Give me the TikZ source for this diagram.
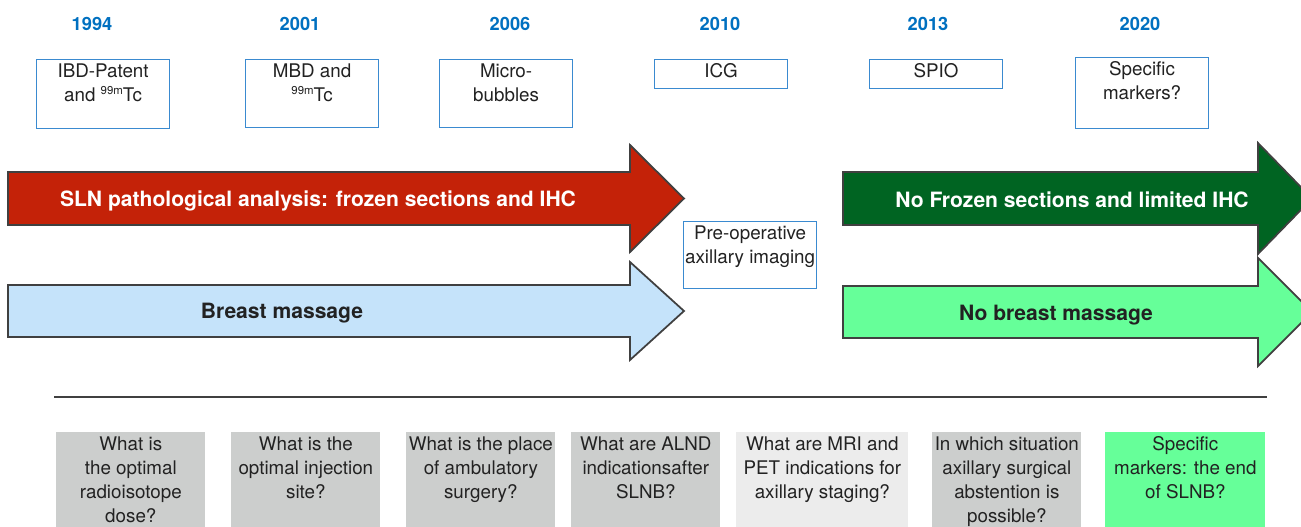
\documentclass[tikz,border=0pt]{standalone}
\usepackage{fontspec}
\setmainfont{TeX Gyre Heros}
\usetikzlibrary{positioning}
\definecolor{yearblue}{RGB}{0,112,192}
\definecolor{boxblue}{RGB}{58,138,208}
\definecolor{sectred}{RGB}{196,34,8}
\definecolor{massblue}{RGB}{197,227,250}
\definecolor{nofrozen}{RGB}{0,100,34}
\definecolor{nomass}{RGB}{102,255,153}
\definecolor{qgray}{RGB}{204,206,205}
\definecolor{qlight}{RGB}{236,236,236}
\definecolor{edge}{RGB}{64,64,64}
\definecolor{ink}{RGB}{34,34,34}
\newcommand{\isotope}{\raisebox{0.75ex}{\fontsize{6.5}{7}\selectfont 99m}}

\tikzset{
  year/.style = {font=\fontsize{10.4}{12}\selectfont\bfseries, text=yearblue},
  boxtext/.style = {font=\fontsize{10.7}{13.7}\selectfont, text=ink, align=center, inner sep=2.5pt},
  tracer/.style = {draw=boxblue, fill=white, line width=0.7pt, anchor=north west,
    minimum width=2.66cm, inner sep=0pt},
  question/.style = {anchor=north west, minimum height=2cm, inner sep=0pt},
  bigarrow/.style = {draw=edge, line width=1pt, line join=miter},
  arrowtext/.style = {font=\fontsize{12}{14}\selectfont\bfseries}
}

\begin{document}
\begin{tikzpicture}[x=0.02cm, y=-0.02cm]
\useasboundingbox (0,0) rectangle (1301,527);

% years
\node[year] (y1994) at (92,24) {1994};
\node[year] (y2001) at (300,24) {2001};
\node[year] (y2006) at (510,24) {2006};
\node[year] (y2010) at (720,24) {2010};
\node[year] (y2013) at (928,24) {2013};
\node[year] (y2020) at (1140,24) {2020};

% tracers
\node[tracer, minimum height=1.38cm, label={[boxtext, anchor=north]north:{IBD-Patent\\and \isotope Tc}}] (ibd) at (36,59) {};
\node[tracer, minimum height=1.36cm, label={[boxtext, anchor=north]north:{MBD and\\\isotope Tc}}] (mbd) at (245,59) {};
\node[tracer, minimum height=1.36cm, label={[boxtext, anchor=north]north:{Micro-\\bubbles}}] (micro) at (439,59) {};
\node[tracer, minimum height=0.58cm, label={[boxtext, anchor=north]north:{ICG}}] (icg) at (654,59) {};
\node[tracer, minimum height=0.58cm, label={[boxtext, anchor=north]north:{SPIO}}] (spio) at (869,59) {};
\node[tracer, minimum height=1.42cm, label={[boxtext, anchor=north]north:{Specific\\markers?}}] (markers) at (1075,57) {};

% big arrows
\filldraw[bigarrow, fill=sectred] (8,172) -- (630,172) -- (630,145) -- (684,198.5)
  -- (630,252) -- (630,225) -- (8,225) -- cycle;
\node[arrowtext, text=white] (frozen) at (318,200.5) {SLN pathological analysis: frozen sections and IHC};

\filldraw[bigarrow, fill=massblue] (8,285) -- (630,285) -- (630,262) -- (684,311)
  -- (630,360) -- (630,337) -- (8,337) -- cycle;
\node[arrowtext, text=ink] (massage) at (282,313) {Breast massage};

\filldraw[bigarrow, fill=nofrozen] (843,172) -- (1258,172) -- (1258,143) -- (1312,198.5)
  -- (1258,254) -- (1258,225) -- (843,225) -- cycle;
\node[arrowtext, text=white] (nofrozen) at (1072,200) {No Frozen sections and limited IHC};

\filldraw[bigarrow, fill=nomass] (843,286) -- (1258,286) -- (1258,258) -- (1312,312)
  -- (1258,366) -- (1258,338) -- (843,338) -- cycle;
\node[arrowtext, text=ink] (nomassage) at (1056,315) {No breast massage};

\node[tracer, minimum height=1.34cm, label={[boxtext, anchor=north]north:{Pre-operative\\axillary imaging}}] (imaging) at (683,221) {};

% separator
\coordinate (sepl) at (54,397);
\coordinate (sepr) at (1267,397);
\draw[edge, line width=0.8pt] (sepl) -- (sepr);

% questions
\node[question, fill=qgray, minimum width=2.98cm, label={[boxtext, anchor=north]north:{What is\\the optimal\\radioisotope\\dose?}}] (dose) at (56,432) {};
\node[question, fill=qgray, minimum width=2.98cm, label={[boxtext, anchor=north]north:{What is the\\optimal injection\\site?}}] (site) at (231,432) {};
\node[question, fill=qgray, minimum width=2.98cm, label={[boxtext, anchor=north]north:{What is the place\\of ambulatory\\surgery?}}] (ambu) at (406,432) {};
\node[question, fill=qgray, minimum width=2.98cm, label={[boxtext, anchor=north]north:{What are ALND\\indicationsafter\\SLNB?}}] (alnd) at (571,432) {};
\node[question, fill=qlight, minimum width=3.44cm, label={[boxtext, anchor=north]north:{What are MRI and\\PET indications for\\axillary staging?}}] (mri) at (736,432) {};
\node[question, fill=qgray, minimum width=2.98cm, label={[boxtext, anchor=north]north:{In which situation\\axillary surgical\\abstention is\\possible?}}] (abst) at (932,432) {};
\node[question, fill=nomass, minimum width=3.2cm, label={[boxtext, anchor=north]north:{Specific\\markers: the end\\of SLNB?}}] (endslnb) at (1105,432) {};
\end{tikzpicture}
\end{document}
